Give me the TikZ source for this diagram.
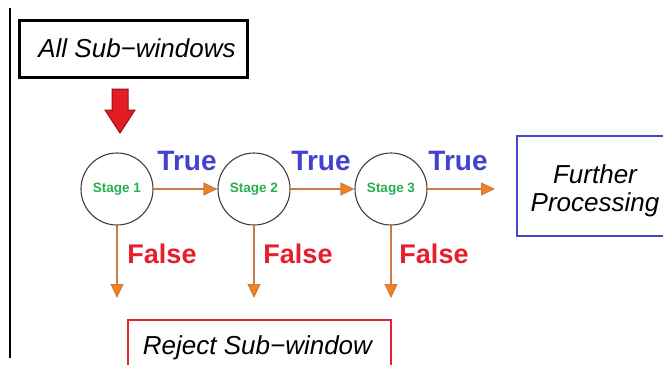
\documentclass[tikz,border=0pt]{standalone}
\usepackage{fontspec}
\setmainfont{Liberation Sans}
\usetikzlibrary{arrows.meta}
\definecolor{truecol}{RGB}{66,66,204}
\definecolor{falsecol}{RGB}{232,30,42}
\definecolor{stagecol}{RGB}{40,176,80}
\definecolor{flowline}{RGB}{206,124,64}
\definecolor{flowhead}{RGB}{245,128,30}
\definecolor{boxblue}{RGB}{70,70,210}
\definecolor{boxred}{RGB}{232,32,48}
\definecolor{arrowred}{RGB}{226,30,36}
\definecolor{arrowedge}{RGB}{150,16,20}
\tikzset{
  boxtext/.style={font=\fontsize{26}{28}\selectfont\itshape, align=center},
  labelbox/.style={draw, line width=2.5pt, inner sep=0pt, boxtext},
  stagenode/.style={circle, draw=black!75, line width=1.1pt, minimum size=72pt,
    inner sep=0pt, text=stagecol, font=\fontsize{13.5}{14}\selectfont\bfseries},
  flow/.style={draw=flowline, line width=1.1pt,
    -{Triangle[length=14pt,width=13pt,fill=flowhead]}},
  truelabel/.style={text=truecol, font=\fontsize{28}{30}\selectfont\bfseries},
  falselabel/.style={text=falsecol, font=\fontsize{27}{30}\selectfont\bfseries}
}
\begin{document}
\begin{tikzpicture}[x=1pt,y=-1pt]
\clip (0,0) rectangle (663,364);
\useasboundingbox (0,0) rectangle (663,364);
\fill[white] (0,0) rectangle (663,364);

% left margin rule
\draw[line width=1.3pt] (10,8) -- (10,358);

% input box and the big entry arrow
\node[labelbox, draw=black, line width=3pt, minimum width=228pt, minimum height=57pt] (all) at (133,48.5) {\raisebox{-2pt}{\hspace*{8pt}All Sub\textminus windows}};
\draw[fill=arrowred, draw=arrowedge, line width=1pt, line join=miter]
  (112,89) -- (128,89) -- (128,110) -- (135,110) -- (120,133) -- (105,110) -- (112,110) -- cycle;

% cascade stages
\node[stagenode] (s1) at (117,189) {Stage 1};
\node[stagenode] (s2) at (254,189) {\raisebox{2pt}{Stage 2}};
\node[stagenode] (s3) at (391,189) {Stage 3};

\coordinate (out) at (495,189);
\coordinate (r1) at (117,298);
\coordinate (r2) at (254,298);
\coordinate (r3) at (391,298);

\draw[flow] (s1) -- (s2);
\draw[flow] (s2) -- (s3);
\draw[flow] (s3) -- (out);
\draw[flow] (s1) -- (r1);
\draw[flow] (s2) -- (r2);
\draw[flow] (s3) -- (r3);

\node[truelabel] (t1) at (187,161) {True};
\node[truelabel] (t2) at (321,161) {True};
\node[truelabel] (t3) at (458,161) {True};
\node[falselabel] (f1) at (162,254) {False};
\node[falselabel] (f2) at (298,254) {False};
\node[falselabel] (f3) at (434,254) {False};

% outcome boxes
\node[labelbox, draw=boxblue, minimum width=156pt, minimum height=100pt,
  label={[boxtext, yshift=-5pt]center:Further\\Processing}] (further) at (595,186) {};
\node[labelbox, draw=boxred, minimum width=263pt, minimum height=56pt] (reject) at (259.5,348) {\hspace*{-4pt}Reject Sub\textminus window};
\end{tikzpicture}
\end{document}
